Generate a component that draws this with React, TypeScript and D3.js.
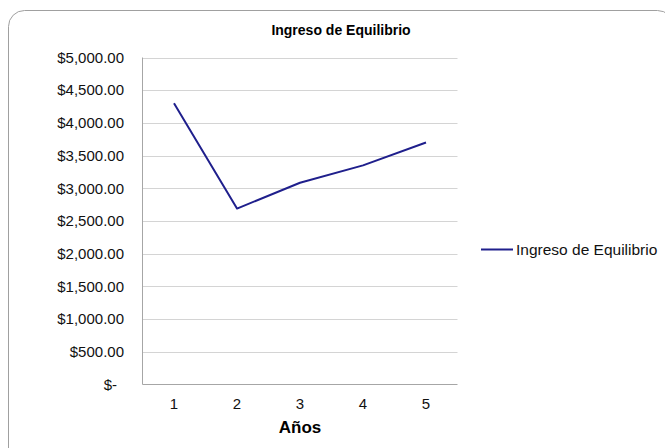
import React from "react";
import * as d3 from "d3";

const years = ["1", "2", "3", "4", "5"];
const ingreso = [4300, 2690, 3085, 3350, 3700];
const yTicks = [0, 500, 1000, 1500, 2000, 2500, 3000, 3500, 4000, 4500, 5000];
const title = "Ingreso de Equilibrio";
const seriesName = "Ingreso de Equilibrio";
const xTitle = "Años";

const W = 665;
const H = 448;
const left = 142.5;
const right = 457.5;
const top = 57.5;
const bottom = 384.5;
const FONT = "'Liberation Sans', Arial, sans-serif";

export default function App() {
  const x = d3.scaleBand<string>().domain(years).range([left, right]);
  const y = d3.scaleLinear().domain([0, 5000]).range([bottom, top]);
  const line = d3
    .line<number>()
    .x((_, i) => (x(years[i]) as number) + x.bandwidth() / 2)
    .y((d) => y(d));
  const fmt = (v: number) => (v === 0 ? "$-" : "$" + d3.format(",.2f")(v));

  return (
    <svg
      width={W}
      height={H}
      style={{ position: "absolute", left: 0, top: 0, background: "#fff" }}
      fontFamily={FONT}
    >
      <rect x={8.5} y={10.5} width={665} height={460} rx={16} fill="#fff" stroke="#a0a0a0" strokeWidth={1} />
      <text x={341} y={35} textAnchor="middle" fontSize={14} fontWeight="bold" fill="#000">
        {title}
      </text>
      {yTicks.map((t) => (
        <g key={t}>
          {t > 0 && (
            <line x1={left} x2={right} y1={Math.round(y(t)) + 0.5} y2={Math.round(y(t)) + 0.5} stroke="#d4d4d4" strokeWidth={1} />
          )}
          <text
            x={t === 0 ? 117 : 124}
            y={y(t)}
            dy="0.35em"
            textAnchor="end"
            fontSize={15}
            fill="#111"
          >
            {fmt(t)}
          </text>
        </g>
      ))}
      <line x1={left} x2={left} y1={top} y2={bottom} stroke="#a6a6a6" strokeWidth={1} />
      <line x1={left} x2={right} y1={bottom} y2={bottom} stroke="#a6a6a6" strokeWidth={1} />
      {years.map((c) => (
        <text
          key={c}
          x={(x(c) as number) + x.bandwidth() / 2}
          y={409}
          textAnchor="middle"
          fontSize={15}
          fill="#111"
        >
          {c}
        </text>
      ))}
      <text x={300} y={433} textAnchor="middle" fontSize={17} fontWeight="bold" fill="#000">
        {xTitle}
      </text>
      <path d={line(ingreso) || ""} fill="none" stroke="#1f1f8c" strokeWidth={2} strokeLinejoin="round" />
      <line x1={481} x2={513} y1={249.5} y2={249.5} stroke="#1f1f8c" strokeWidth={2} />
      <text x={516} y={249.5} dy="0.35em" fontSize={15.5} fill="#111">
        {seriesName}
      </text>
    </svg>
  );
}
